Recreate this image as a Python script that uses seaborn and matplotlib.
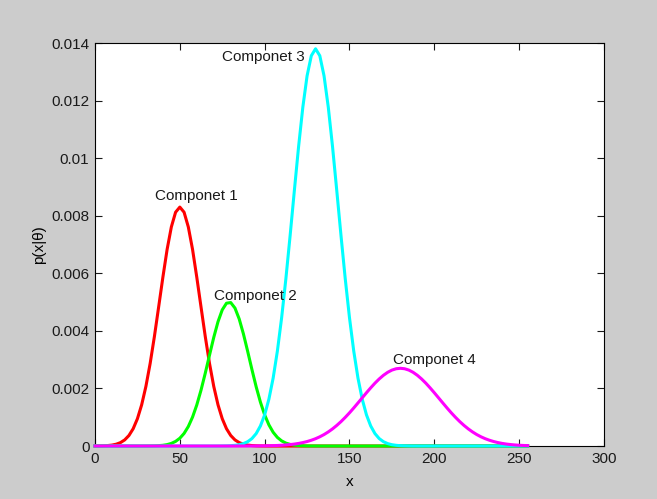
import pandas as pd
import seaborn as sns
import matplotlib.pyplot as plt

# sample positions along x (0, 2.5, ..., 255)
x_vals = [i * 2.5 for i in range(103)]

# component curves
comp1 = [0.000001, 0.000003, 0.000007, 0.000016, 0.000032, 0.000063, 0.000118, 0.000212,
         0.000365, 0.000601, 0.000948, 0.001431, 0.00207, 0.002866, 0.00380, 0.004825,
         0.00586, 0.006828, 0.00761, 0.008122, 0.0083, 0.008122, 0.00761, 0.006828,
         0.00586, 0.004825, 0.0038, 0.002866, 0.00207, 0.001431, 0.000948, 0.000601,
         0.000365, 0.000212, 0.000118, 0.000063, 0.000032, 0.000016, 0.000007, 0.000003,
         0.000001] + [0.0] * 62
comp2 = [0.0] * 12 + [0.000001, 0.000003, 0.000006, 0.000013, 0.000025, 0.000049, 0.00009,
                      0.00016, 0.00027, 0.000437, 0.000677, 0.001005, 0.001428, 0.001943,
                      0.002532, 0.003159, 0.003774, 0.004318, 0.00473, 0.004961, 0.004983,
                      0.004792, 0.004412, 0.00389, 0.003285, 0.002656, 0.002056, 0.001524,
                      0.001081, 0.000735, 0.000478, 0.000298, 0.000178, 0.000102, 0.000056,
                      0.000029, 0.000015, 0.000007, 0.000003, 0.000001,
                      0.000001] + [0.0] * 50
comp3 = [0.0] * 29 + [0.000001, 0.000003, 0.000006, 0.000012, 0.000024, 0.000045, 0.000084,
                      0.00015, 0.000259, 0.000432, 0.000697, 0.001083, 0.001628, 0.002359,
                      0.0033, 0.004455, 0.005807, 0.007306, 0.008873, 0.010402, 0.011771,
                      0.012859, 0.013558, 0.0138, 0.013558, 0.012859, 0.011771, 0.010402,
                      0.008873, 0.007306, 0.005807, 0.004455, 0.0033, 0.002359, 0.001628,
                      0.001083, 0.000697, 0.000432, 0.000259, 0.00015, 0.000084, 0.000045,
                      0.000024, 0.000012, 0.000006, 0.000003, 0.000001] + [0.0] * 27
comp4 = [0.0] * 34 + [0.0000005, 0.0000008, 0.0000013, 0.0000019, 0.0000029, 0.0000043,
                      0.0000064, 0.0000093, 0.0000133, 0.0000188, 0.0000263, 0.0000364,
                      0.0000498, 0.0000673, 0.0000899, 0.000119, 0.000155, 0.0002, 0.000254,
                      0.00032, 0.000398, 0.00049, 0.000595, 0.000715, 0.000848, 0.000995,
                      0.001153, 0.001321, 0.001496, 0.001673, 0.00185, 0.002021, 0.002183,
                      0.002329, 0.002456, 0.00256, 0.002637, 0.002684, 0.0027, 0.002684,
                      0.002637, 0.00256, 0.002456, 0.002329, 0.002183, 0.002021, 0.00185,
                      0.001673, 0.001496, 0.001321, 0.001153, 0.000995, 0.000848, 0.000715,
                      0.000595, 0.00049, 0.000398, 0.00032, 0.000254, 0.0002, 0.000155,
                      0.000119, 0.0000899, 0.0000673, 0.0000498, 0.0000364, 0.0000263,
                      0.0000188, 0.0000133]

names = ['Componet 1', 'Componet 2', 'Componet 3', 'Componet 4']
colors = ['#ff0000', '#00ff00', '#00ffff', '#ff00ff']
label_pos = [(59.5, 0.00868), (94.5, 0.0052), (99, 0.0135), (200, 0.0030)]

xticks = [0, 50, 100, 150, 200, 250, 300]
yticks = [0, 0.002, 0.004, 0.006, 0.008, 0.01, 0.012, 0.014]
ytick_labels = ['0', '0.002', '0.004', '0.006', '0.008', '0.01', '0.012', '0.014']

df = pd.DataFrame({'x': x_vals * 4,
                   'p': comp1 + comp2 + comp3 + comp4,
                   'comp': [n for n in names for _ in x_vals]})

plt.rcParams['font.family'] = ['Liberation Sans', 'DejaVu Sans']

fig = plt.figure(figsize=(6.57, 4.99), dpi=100, facecolor='#cccccc')
ax = fig.add_axes([0.1446, 0.1062, 0.7747, 0.8076])
ax.set_facecolor('white')

sns.lineplot(data=df, x='x', y='p', hue='comp', palette=colors, linewidth=2.2,
             legend=False, ax=ax)
for ln in ax.lines:
    ln.set_clip_on(False)
    ln.set_zorder(3)

for name, (tx, ty) in zip(names, label_pos):
    ax.text(tx, ty, name, ha='center', va='center', fontsize=11, color='#1a1a1a')

ax.set_xlim(0, 300)
ax.set_ylim(0, 0.014)
ax.set_xticks(xticks)
ax.set_xticklabels([str(t) for t in xticks])
ax.set_yticks(yticks)
ax.set_yticklabels(ytick_labels)
ax.tick_params(direction='in', top=True, right=True, length=5, width=0.8,
               labelsize=11, colors='#1a1a1a', pad=4)
for s in ax.spines.values():
    s.set_linewidth(0.8)
    s.set_color('black')

ax.set_xlabel('x', fontsize=11, labelpad=7)
ax.set_ylabel('p(x|θ)', fontsize=11, labelpad=4)

fig.savefig('out.png', dpi=100, facecolor=fig.get_facecolor())
